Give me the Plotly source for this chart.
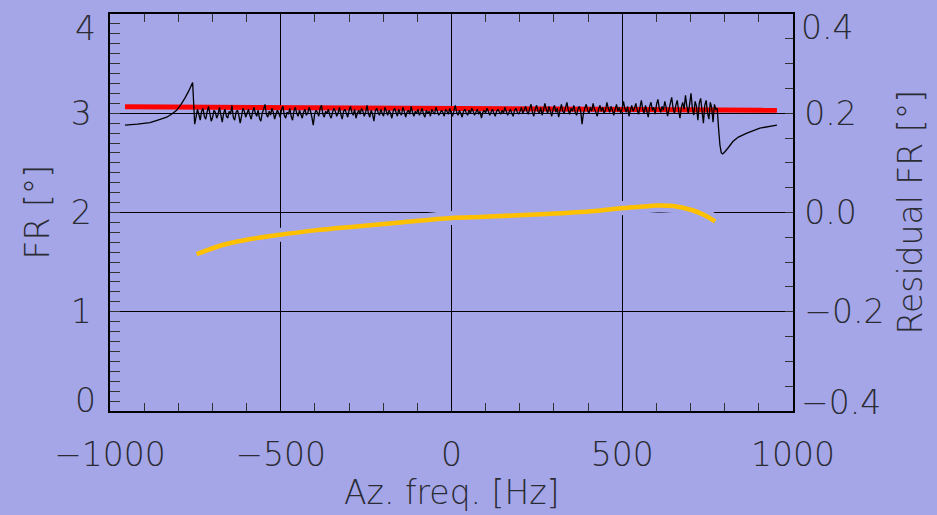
import numpy as np
import plotly.graph_objects as go

# ---------------- data ----------------
# smooth part of measured FR left of the processed band
ramp_f = [-956, -920, -883, -860, -834, -820, -805, -792, -781, -770, -758]
ramp_v = [2.88, 2.89, 2.905, 2.93, 2.96, 2.99, 3.03, 3.09, 3.15, 3.22, 3.31]

noise_v = [
    2.89, 2.96, 3.04, 2.99, 2.93, 3.02, 3.05, 2.97, 2.94, 3.01, 3.07, 3.00, 2.92, 2.96, 3.03, 3.01, 2.95, 2.99, 3.06, 2.98,
    2.91, 3.00, 3.04, 2.97, 2.95, 3.02, 2.99, 3.08, 2.96, 2.93, 3.01, 3.03, 2.98, 2.90, 2.97, 3.05, 3.02, 2.96, 3.00, 3.04,
    2.98, 2.94, 3.01, 3.06, 3.00, 2.97, 3.03, 2.95, 2.92, 3.00, 3.04, 3.09, 2.99, 2.96, 3.02, 2.98, 3.05, 3.01, 2.94, 2.99,
    3.03, 3.00, 2.96, 3.04, 3.07, 2.98, 2.95, 3.01, 2.99, 3.05, 2.97, 2.93, 3.02, 3.06, 3.00, 2.97, 3.03, 2.99, 2.95, 3.01,
    3.04, 2.98, 3.00, 3.06, 3.02, 2.96, 2.88, 2.99, 3.03, 3.01, 2.97, 3.05, 3.08, 2.99, 2.96, 3.02, 3.00, 3.04, 2.98, 2.95,
    3.01, 3.05, 3.02, 2.97, 3.00, 3.06, 2.99, 2.94, 3.02, 3.04, 3.00, 2.96, 3.03, 3.07, 3.01, 2.98, 3.04, 2.95, 3.00, 3.03,
    2.99, 3.05, 3.02, 2.97, 3.01, 3.08, 3.00, 2.96, 3.03, 2.99, 2.92, 3.02, 3.05, 3.01, 2.98, 3.04, 3.00, 2.97, 3.06, 3.02,
    2.98, 3.03, 3.00, 2.95, 3.02, 3.05, 3.01, 2.97, 3.04, 3.00, 2.98, 3.06, 3.02, 2.96, 3.01, 3.03, 2.99, 3.07, 3.01, 2.97,
    3.02, 3.00, 3.04, 2.98, 3.01, 3.05, 2.99, 2.96, 3.03, 3.00, 3.02, 2.97, 3.04, 3.01, 2.99, 3.06, 3.02, 2.98, 3.00, 3.03,
    3.01, 2.97, 3.04, 3.02, 2.99, 3.05, 3.00, 2.97, 3.02, 3.08, 3.01, 2.98, 3.03, 3.00, 2.96, 3.02, 3.04, 3.00, 2.98, 3.03,
    3.00, 3.05, 3.02, 2.98, 3.01, 3.04, 2.99, 3.02, 2.95, 3.01, 3.03, 3.00, 3.05, 3.02, 2.98, 3.01, 3.04, 3.00, 2.97, 3.02,
    3.04, 3.01, 2.99, 3.03, 3.00, 3.06, 3.02, 2.98, 3.01, 3.04, 3.00, 2.97, 3.03, 3.05, 3.01, 2.99, 3.02, 3.06, 3.00, 3.03,
    3.07, 3.02, 2.99, 3.05, 3.09, 3.01, 2.97, 3.04, 3.08, 3.02, 3.00, 3.06, 2.98, 3.03, 3.10, 3.04, 3.00, 3.07, 3.02, 2.97,
    3.04, 3.08, 3.01, 3.05, 2.96, 3.03, 3.09, 3.02, 3.00, 3.06, 3.11, 3.03, 2.99, 3.05, 3.02, 3.08, 3.01, 2.98, 3.04, 3.07,
    3.02, 2.89, 3.00, 3.05, 3.09, 3.03, 3.00, 3.06, 3.02, 3.10, 3.04, 3.01, 2.97, 3.04, 3.08, 3.02, 3.06, 3.00, 3.03, 3.11,
    3.05, 3.01, 3.07, 3.03, 2.98, 3.04, 3.09, 3.02, 3.06, 3.00, 3.04, 3.12, 3.05, 3.01, 3.07, 2.97, 3.03, 3.08, 3.02, 3.05,
    3.10, 3.03, 2.99, 3.06, 3.13, 3.04, 3.00, 3.08, 3.02, 2.96, 3.07, 3.11, 3.03, 3.06, 2.99, 3.09, 3.14, 3.05, 3.01, 3.07,
    3.03, 3.12, 3.06, 2.97, 3.04, 3.10, 3.16, 3.05, 3.00, 3.08, 3.13, 3.03, 2.95, 3.06, 3.11, 3.04, 3.18, 3.07, 3.00, 3.09,
    3.20, 3.05, 2.98, 3.12, 3.07, 2.93, 3.10, 3.15, 3.03, 2.90, 3.08, 3.13, 3.00, 2.94, 3.11, 3.06, 2.91, 3.09, 3.04, 3.05,
]
noise_f_start, noise_f_end = -752, 778

# smooth part right of the band
tail_f = [782, 786, 790, 794, 800, 812, 824, 840, 865, 903, 953]
tail_v = [2.85, 2.68, 2.60, 2.59, 2.61, 2.66, 2.715, 2.76, 2.80, 2.85, 2.88]

# fitted model (red)
fit_f = [-956, 953]
fit_v = [3.065, 3.03]

# residual (orange, right axis)
res_f = [-746, -668, -600, -502, -400, -278, -150, 0, 83, 112, 279, 420, 503, 560, 601, 650, 708, 740, 772]
res_v = [-0.084, -0.065, -0.055, -0.045, -0.036, -0.028, -0.020, -0.011, -0.009, -0.008, -0.003, 0.003,
         0.009, 0.012, 0.014, 0.013, 0.004, -0.005, -0.018]

x_ticks = [-1000, -500, 0, 500, 1000]
y1_ticks = [0, 1, 2, 3, 4]
y2_ticks = [-0.4, -0.2, 0.0, 0.2, 0.4]

# ---------------- figure ----------------
noise_f = list(np.linspace(noise_f_start, noise_f_end, len(noise_v)))
meas_f = ramp_f + noise_f + tail_f
meas_v = ramp_v + noise_v + tail_v

BG = "#a4a6e8"
TXT = "#2b2b33"
FONT = "DejaVu Sans"
FS = 33

fig = go.Figure()
fig.add_trace(go.Scatter(x=fit_f, y=fit_v, mode="lines",
                         line=dict(color="#ff0000", width=5), showlegend=False))
fig.add_trace(go.Scatter(x=meas_f, y=meas_v, mode="lines",
                         line=dict(color="black", width=1.3, simplify=False), showlegend=False))
# background-coloured halo under the residual curve (hides grid lines nearby)
fig.add_trace(go.Scatter(x=res_f, y=res_v, mode="lines", yaxis="y2", hoverinfo="skip",
                         line=dict(color=BG, width=14, shape="spline"), showlegend=False))
fig.add_trace(go.Scatter(x=res_f, y=res_v, mode="lines", yaxis="y2",
                         line=dict(color="#ffc000", width=4.5, shape="spline"), showlegend=False))

tickfont = dict(family=FONT, size=FS, color=TXT, weight=200)

fig.update_layout(
    width=937, height=515,
    margin=dict(l=110, r=144, t=14, b=104),
    paper_bgcolor=BG, plot_bgcolor=BG,
    xaxis=dict(range=[-1000, 1000], tickmode="array", tickvals=x_ticks,
               ticktext=["\u22121000", "\u2212500", "0", "500", "1000"],
               ticks="inside", ticklen=8, tickcolor="black",
               minor=dict(dtick=100, tick0=0, ticks="inside", ticklen=6, tickcolor="#333"),
               showline=True, linecolor="black", linewidth=1.5, mirror="allticks",
               showgrid=True, gridcolor="black", gridwidth=1, zeroline=False,
               tickfont=tickfont, ticklabelstandoff=14),
    yaxis=dict(range=[0, 4], tickmode="array", tickvals=y1_ticks,
               ticktext=["", "1", "2", "3", ""],
               ticks="inside", ticklen=10, tickcolor="#333",
               minor=dict(dtick=0.1, tick0=0, ticks="inside", ticklen=10, tickcolor="#333"),
               showline=True, linecolor="black", linewidth=1.5, mirror=False,
               showgrid=True, gridcolor="black", gridwidth=1, zeroline=False,
               tickfont=tickfont, ticklabelstandoff=10),
    yaxis2=dict(range=[-0.4, 0.4], overlaying="y", side="right", tickmode="array",
                tickvals=y2_ticks, ticktext=["", "\u22120.2", "0.0", "0.2", ""],
                ticks="inside", ticklen=8, tickcolor="#333",
                minor=dict(dtick=0.05, tick0=0, ticks="inside", ticklen=8, tickcolor="#333"),
                showline=True, linecolor="black", linewidth=1.5,
                showgrid=False, zeroline=False,
                tickfont=tickfont, ticklabelstandoff=3),
)

afont = dict(family=FONT, size=FS, color=TXT, weight=200)
ann = []
# extreme tick labels, nudged inside the frame as in the reference
ann.append(dict(text="4", xref="paper", x=0, xanchor="right", xshift=-12, yref="y", y=4,
                yanchor="middle", yshift=-14, showarrow=False, font=afont))
ann.append(dict(text="0", xref="paper", x=0, xanchor="right", xshift=-12, yref="y", y=0,
                yanchor="middle", yshift=11, showarrow=False, font=afont))
ann.append(dict(text="0.4", xref="paper", x=1, xanchor="left", xshift=6, yref="y2", y=0.4,
                yanchor="middle", yshift=-13, showarrow=False, font=afont))
ann.append(dict(text="\u22120.4", xref="paper", x=1, xanchor="left", xshift=6, yref="y2", y=-0.4,
                yanchor="middle", yshift=9, showarrow=False, font=afont))
# axis titles
ann.append(dict(text="Az. freq. [Hz]", xref="x", x=0, yref="paper", y=0, yanchor="top",
                yshift=-60, showarrow=False, font=afont))
ann.append(dict(text="FR [\u00b0]", xref="paper", x=0, xanchor="center", xshift=-73, yref="paper",
                y=0.5, textangle=-90, showarrow=False, font=afont))
ann.append(dict(text="Residual FR [\u00b0]", xref="paper", x=1, xanchor="center", xshift=117,
                yref="paper", y=0.5, textangle=-90, showarrow=False, font=afont))
fig.update_layout(annotations=ann)

fig.write_html("out.html")
